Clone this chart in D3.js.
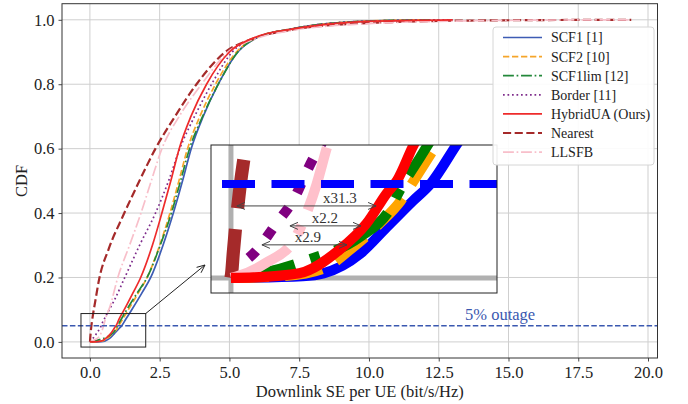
<!DOCTYPE html>
<html><head><meta charset="utf-8">
<script src="https://cdn.jsdelivr.net/npm/d3@7"></script>
<style>
body{margin:0;background:#fff}
svg{display:block}
text{font-family:"Liberation Serif","Times New Roman",serif}
</style>
</head><body>
<svg id="c" width="688" height="404"></svg>
<script>
// ---------------- data ----------------
const legendLabels = ["SCF1 [1]","SCF2 [10]","SCF1lim [12]","Border [11]","HybridUA (Ours)","Nearest","LLSFB"];

const scf1 = [[0,0],[0.41,0.001],[0.53,0.0025],[0.74,0.013],[0.89,0.027],[1.04,0.041],[1.14,0.05],[1.29,0.071],[1.5,0.1],[1.85,0.15],[2.18,0.2],[2.62,0.3],[2.99,0.4],[3.32,0.5],[3.63,0.6],[4.06,0.7],[4.6,0.8],[5.3,0.9],[6.0,0.945],[7.3,0.973],[8.5,0.988],[9.9,0.996],[12,1]];
const scf2 = [[0,0],[0.3,0.001],[0.53,0.005],[0.68,0.015],[0.85,0.029],[0.97,0.041],[1.06,0.054],[1.17,0.07],[1.38,0.1],[1.72,0.15],[2.05,0.2],[2.5,0.3],[2.87,0.4],[3.19,0.5],[3.5,0.6],[3.94,0.7],[4.5,0.8],[5.25,0.9],[6.0,0.945],[7.3,0.973],[8.5,0.988],[9.9,0.996],[12,1]];
const scf1lim = [[0,0],[0.2,0.003],[0.41,0.0087],[0.74,0.022],[0.89,0.034],[0.985,0.05],[1.08,0.064],[1.32,0.1],[1.68,0.15],[2.05,0.2],[2.52,0.3],[2.92,0.4],[3.25,0.5],[3.57,0.6],[4.04,0.7],[4.6,0.8],[5.3,0.9],[6.0,0.945],[7.3,0.973],[8.5,0.988],[10,0.996],[12.5,1]];
const border = [[0,0],[0.03,0.004],[0.15,0.015],[0.26,0.029],[0.36,0.042],[0.44,0.058],[0.6,0.085],[0.88,0.13],[1.25,0.2],[1.78,0.3],[2.35,0.4],[2.82,0.5],[3.22,0.6],[3.75,0.7],[4.36,0.8],[5.1,0.9],[6.0,0.945],[7.3,0.973],[8.5,0.988],[10,0.996],[13,1]];
const hybridUA = [[0,0],[0.13,0.0003],[0.39,0.0025],[0.62,0.015],[0.775,0.029],[0.89,0.045],[0.95,0.052],[1.04,0.07],[1.23,0.1],[1.53,0.15],[1.82,0.2],[2.24,0.3],[2.58,0.4],[2.9,0.5],[3.2,0.6],[3.62,0.7],[4.18,0.8],[5.0,0.9],[5.9,0.945],[7.3,0.972],[8.5,0.986],[10,0.995],[13,1]];
const nearest = [[0,0],[0.004,0.0025],[0.013,0.013],[0.05,0.047],[0.09,0.073],[0.2,0.13],[0.32,0.19],[0.68,0.29],[1.18,0.39],[1.72,0.49],[2.35,0.6],[3.05,0.7],[3.82,0.8],[4.85,0.9],[5.8,0.94],[7.3,0.97],[10,0.99],[14,0.998],[19.4,1]];
const llsfb = [[0,0],[0.03,0.0007],[0.2,0.008],[0.36,0.02],[0.43,0.034],[0.49,0.05],[0.55,0.07],[0.72,0.11],[1.0,0.2],[1.42,0.3],[1.83,0.4],[2.2,0.5],[2.58,0.6],[3.2,0.7],[4.0,0.8],[4.95,0.9],[5.9,0.94],[7.3,0.968],[10,0.988],[13,0.996],[16,0.999],[19.4,1]];

const xTickValues = [0,2.5,5,7.5,10,12.5,15,17.5,20];
const xTickLabels = ["0.0","2.5","5.0","7.5","10.0","12.5","15.0","17.5","20.0"];
const yTickValues = [0,0.2,0.4,0.6,0.8,1.0];
const yTickLabels = ["0.0","0.2","0.4","0.6","0.8","1.0"];
const xLabel = "Downlink SE per UE (bit/s/Hz)";
const yLabel = "CDF";
const outageLevel = 0.05;
const outageLabel = "5% outage";
const outageLabelX = 14.7;
const zoomRegionX = [-0.32, 2.0];
const zoomRegionY = [-0.016, 0.088];
const insetXDomain = [-0.114, 1.52];
const insetYDomain = [-0.008, 0.0707];
const ratioLabels = ["x31.3","x2.2","x2.9"];
const ratioFrom = [0.034, 0.337, 0.177];
const ratioTo = [0.829, 0.743, 0.663];
const ratioLevel = [0.0383, 0.0277, 0.0176];
const ratioTextX = [0.623, 0.537, 0.44];

// ---------------- styles ----------------
const seriesData = [scf1, scf2, scf1lim, border, hybridUA, nearest, llsfb];
const styles = [
  {color:"#3d5cb4", inset:"#0000ff", w:1.7, dash:null},
  {color:"#f5a52a", inset:"#ffa500", w:1.7, dash:[3.7,1.6]},
  {color:"#23883a", inset:"#008000", w:1.7, dash:[6.4,1.6,1,1.6]},
  {color:"#7f2d8c", inset:"#800080", w:1.7, dash:[1,1.65]},
  {color:"#ee2b2b", inset:"#ff0000", w:1.7, dash:null},
  {color:"#a52a2a", inset:"#a52a2a", w:2.2, dash:[3.7,1.6]},
  {color:"#f8bfca", inset:"#ffc0cb", w:1.7, dash:[6.4,1.6,1,1.6]}
];
const drawOrder = [0,1,2,3,5,6,4];
const dashStr = (s, k) => s.dash ? s.dash.map(v => (v*s.w*k).toFixed(2)).join(",") : null;

const svg = d3.select("#c");
const L = 62, R = 657.5, T = 3.7, B = 358;
const x = d3.scaleLinear().domain([-1.0, 20.34]).range([L, R]);
const y = d3.scaleLinear().domain([-0.05, 1.05]).range([B, T]);

const defs = svg.append("defs");
defs.append("clipPath").attr("id","clipMain").append("rect").attr("x",L).attr("y",T).attr("width",R-L).attr("height",B-T);
const IL = 211, IR = 497, IT = 145, IB = 293;
defs.append("clipPath").attr("id","clipInset").append("rect").attr("x",IL).attr("y",IT).attr("width",IR-IL).attr("height",IB-IT);

// grid
const grid = svg.append("g");
grid.selectAll("line.vx").data(xTickValues).join("line")
  .attr("x1",d=>x(d)).attr("x2",d=>x(d)).attr("y1",T).attr("y2",B)
  .attr("stroke","#cfcfcf").attr("stroke-width",1);
grid.selectAll("line.hy").data(yTickValues).join("line")
  .attr("y1",d=>y(d)).attr("y2",d=>y(d)).attr("x1",L).attr("x2",R)
  .attr("stroke","#cfcfcf").attr("stroke-width",1);

// curves
const lineMain = d3.line().x(d=>x(d[0])).y(d=>y(d[1])).curve(d3.curveMonotoneX);
const gMain = svg.append("g").attr("clip-path","url(#clipMain)");
drawOrder.forEach(i => {
  const s = styles[i];
  gMain.append("path").datum(seriesData[i]).attr("d", lineMain)
    .attr("fill","none").attr("stroke", s.color).attr("stroke-width", s.w)
    .attr("stroke-dasharray", dashStr(s,1));
});
// outage line
gMain.append("line").attr("x1",L).attr("x2",R).attr("y1",y(outageLevel)).attr("y2",y(outageLevel))
  .attr("stroke","#3a58b0").attr("stroke-width",1.4).attr("stroke-dasharray","5.5,2.4");
svg.append("text").attr("x",x(outageLabelX)).attr("y",y(outageLevel)-6)
  .attr("text-anchor","middle").attr("font-size",16.5).attr("fill","#3a58b0").text(outageLabel);

// axes
const xAxis = d3.axisBottom(x).tickValues(xTickValues).tickFormat((d,i)=>xTickLabels[i]).tickSize(3.5).tickPadding(5);
const gx = svg.append("g").attr("transform",`translate(0,${B})`).call(xAxis);
const yAxis = d3.axisLeft(y).tickValues(yTickValues).tickFormat((d,i)=>yTickLabels[i]).tickSize(3.5).tickPadding(4);
const gy = svg.append("g").attr("transform",`translate(${L},0)`).call(yAxis);
[gx,gy].forEach(g=>{
  g.select(".domain").remove();
  g.selectAll(".tick line").attr("stroke","#333").attr("stroke-width",0.9);
  g.selectAll(".tick text").attr("font-family","Liberation Serif, serif").attr("font-size",16.5).attr("fill","#222");
});
svg.append("rect").attr("x",L).attr("y",T).attr("width",R-L).attr("height",B-T)
  .attr("fill","none").attr("stroke","#333").attr("stroke-width",1);

svg.append("text").attr("x",(L+R)/2).attr("y",397).attr("text-anchor","middle")
  .attr("font-size",16.5).attr("fill","#222").text(xLabel);
svg.append("text").attr("transform",`translate(27,${(T+B)/2}) rotate(-90)`).attr("text-anchor","middle")
  .attr("font-size",16.5).attr("fill","#222").text(yLabel);

// zoom region rect
svg.append("rect").attr("x",x(zoomRegionX[0])).attr("y",y(zoomRegionY[1]))
  .attr("width",x(zoomRegionX[1])-x(zoomRegionX[0])).attr("height",y(zoomRegionY[0])-y(zoomRegionY[1]))
  .attr("fill","none").attr("stroke","#222").attr("stroke-width",1);

// connector arrow
function openHead(g, tx, ty, ang, len, wid, color, sw){
  const ca = Math.cos(ang), sa = Math.sin(ang);
  const bx = tx - len*ca, by = ty - len*sa;
  const px = -sa*wid, py = ca*wid;
  g.append("path").attr("d",`M${bx+px},${by+py}L${tx},${ty}L${bx-px},${by-py}`)
    .attr("fill","none").attr("stroke",color).attr("stroke-width",sw);
}
const cx0 = x(zoomRegionX[1]), cy0 = y(zoomRegionY[1]);
const cx1 = IL-6, cy1 = 265;
const gc = svg.append("g");
gc.append("line").attr("x1",cx0).attr("y1",cy0).attr("x2",cx1).attr("y2",cy1).attr("stroke","#222").attr("stroke-width",1);
openHead(gc, cx1, cy1, Math.atan2(cy1-cy0, cx1-cx0), 8, 3.5, "#222", 1);

// inset
const xi = d3.scaleLinear().domain(insetXDomain).range([IL, IR]);
const yi = d3.scaleLinear().domain(insetYDomain).range([IB, IT]);
const gi = svg.append("g");
gi.append("rect").attr("x",IL).attr("y",IT).attr("width",IR-IL).attr("height",IB-IT).attr("fill","#fff");
const gic = gi.append("g").attr("clip-path","url(#clipInset)");
gic.append("line").attr("x1",xi(0)).attr("x2",xi(0)).attr("y1",IT).attr("y2",IB).attr("stroke","#b0b0b0").attr("stroke-width",5);
gic.append("line").attr("y1",yi(0)).attr("y2",yi(0)).attr("x1",IL).attr("x2",IR).attr("stroke","#b0b0b0").attr("stroke-width",5);
const lineInset = d3.line().x(d=>xi(d[0])).y(d=>yi(d[1])).curve(d3.curveMonotoneX);
drawOrder.forEach(i => {
  const s = styles[i];
  gic.append("path").datum(seriesData[i]).attr("d", lineInset)
    .attr("fill","none").attr("stroke", s.inset).attr("stroke-width", s.w*6)
    .attr("stroke-dasharray", dashStr(s,6));
});
gic.append("line").attr("x1",IL).attr("x2",IR).attr("y1",yi(outageLevel)).attr("y2",yi(outageLevel))
  .attr("stroke","#0000ff").attr("stroke-width",8).attr("stroke-dasharray","33,16.5").attr("stroke-dashoffset",-11);
// ratio arrows
ratioLabels.forEach((lab,i)=>{
  const xa = xi(ratioFrom[i]), xb = xi(ratioTo[i]), ya = yi(ratioLevel[i]);
  gic.append("line").attr("x1",xa).attr("x2",xb).attr("y1",ya).attr("y2",ya).attr("stroke","#444").attr("stroke-width",1);
  openHead(gic, xa, ya, Math.PI, 8, 3.5, "#444", 1);
  openHead(gic, xb, ya, 0, 8, 3.5, "#444", 1);
  gic.append("text").attr("x",xi(ratioTextX[i])).attr("y",ya-2.5).attr("text-anchor","middle")
    .attr("font-size",15).attr("fill","#333").text(lab);
});
gi.append("rect").attr("x",IL).attr("y",IT).attr("width",IR-IL).attr("height",IB-IT)
  .attr("fill","none").attr("stroke","#222").attr("stroke-width",1);

// legend
const LX = 493, LY = 27, LW = 161, LH = 138, rowH = 19.1, row0 = 37.5;
const gl = svg.append("g");
gl.append("rect").attr("x",LX).attr("y",LY).attr("width",LW).attr("height",LH).attr("rx",3)
  .attr("fill","#fff").attr("fill-opacity",0.9).attr("stroke","#d6d6d6").attr("stroke-width",1);
legendLabels.forEach((lab,i)=>{
  const s = styles[i], yy = row0 + i*rowH;
  gl.append("line").attr("x1",503).attr("x2",542).attr("y1",yy).attr("y2",yy)
    .attr("stroke",s.color).attr("stroke-width",s.w).attr("stroke-dasharray",dashStr(s,1));
  gl.append("text").attr("x",551).attr("y",yy).attr("dy","0.35em").attr("font-size",14)
    .attr("fill","#222").text(lab);
});
</script>
</body></html>
